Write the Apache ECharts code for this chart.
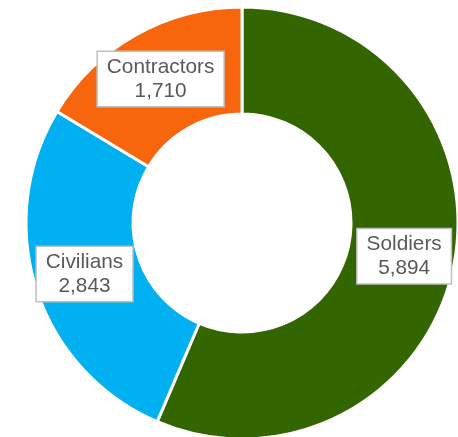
<!DOCTYPE html>
<html><head><meta charset="utf-8">
<script src="https://cdn.jsdelivr.net/npm/echarts@6/dist/echarts.min.js"></script>
<style>html,body{margin:0;padding:0;background:#fff}#c{width:458px;height:437px}</style>
</head><body><div id="c"></div>
<script>
const categories = ['Soldiers', 'Civilians', 'Contractors'];
const values = [5894, 2843, 1710];
const colors = ['#336600', '#00B0F0', '#F7660D'];

const chart = echarts.init(document.getElementById('c'), null, {renderer: 'canvas'});
chart.setOption({
  animation: false,
  backgroundColor: '#fff',
  series: [{
    type: 'pie',
    center: [242, 223],
    radius: [109, 216],
    startAngle: 90,
    clockwise: true,
    avoidLabelOverlap: false,
    itemStyle: {borderColor: '#fff', borderWidth: 3},
    label: {
      show: true,
      position: 'inside',
      formatter: p => p.name + '\n' + p.value.toLocaleString('en-US'),
      fontFamily: 'Liberation Sans, Arial, sans-serif',
      fontSize: 20.8,
      lineHeight: 24,
      color: '#595959',
      backgroundColor: '#fff',
      borderColor: '#bfbfbf',
      borderWidth: 1.5,
      padding: [3, 9, 3, 9],
      align: 'center'
    },
    labelLine: {show: false},
    emphasis: {disabled: true},
    data: categories.map((n, i) => ({name: n, value: values[i], itemStyle: {color: colors[i]}}))
  }]
});
</script></body></html>
